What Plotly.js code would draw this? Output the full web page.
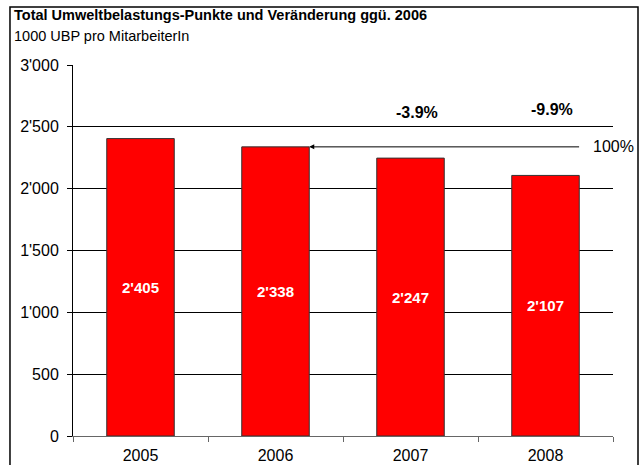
<!DOCTYPE html>
<html><head><meta charset="utf-8">
<script src="https://cdn.plot.ly/plotly-3.0.1.min.js"></script>
<style>html,body{margin:0;padding:0;background:#fff}#chart{width:640px;height:465px}</style>
</head><body><div id="chart"></div>
<script>
var years = ['2005', '2006', '2007', '2008'];
var ubp = [2405, 2338, 2247, 2107];
var baseYear = '2006';
var titleText = 'Total Umweltbelastungs-Punkte und Veränderung ggü. 2006';
var subtitleText = '1000 UBP pro MitarbeiterIn';
var changeLabelY = [null, null, 2612, 2644];

var baseIdx = years.indexOf(baseYear);
var baseVal = ubp[baseIdx];
var font = 'Liberation Sans, Arial, sans-serif';

var annotations = [
  {text: '<b>' + titleText + '</b>', xref: 'paper', yref: 'paper', x: -0.113, y: 1.136,
   xanchor: 'left', yanchor: 'middle', showarrow: false, font: {family: font, size: 14.5, color: '#000'}},
  {text: subtitleText, xref: 'paper', yref: 'paper', x: -0.113, y: 1.077,
   xanchor: 'left', yanchor: 'middle', showarrow: false, font: {family: font, size: 14.5, color: '#000'}},
  {x: baseIdx + 0.25, y: baseVal, xref: 'x', yref: 'y', ax: 3.26, ay: baseVal, axref: 'x', ayref: 'y',
   showarrow: true, arrowhead: 2, arrowsize: 1, arrowwidth: 1, arrowcolor: '#000', text: ''},
  {x: 3.335, y: baseVal, xref: 'x', yref: 'y', text: '100%', showarrow: false, xanchor: 'left', yanchor: 'middle',
   font: {family: font, size: 16, color: '#000'}}
];
for (var i = 0; i < years.length; i++) {
  if (changeLabelY[i] == null) continue;
  var pct = (ubp[i] / baseVal - 1) * 100;
  annotations.push({x: i + 0.05, y: changeLabelY[i], xref: 'x', yref: 'y', showarrow: false,
    text: '<b>' + pct.toFixed(1) + '%</b>', font: {family: font, size: 16, color: '#000'}});
}

var trace = {
  type: 'bar', x: years, y: ubp, width: 0.5,
  marker: {color: '#ff0000', line: {color: '#333333', width: 1}},
  texttemplate: '<b>%{y:,}</b>', textposition: 'inside', insidetextanchor: 'middle',
  textfont: {family: font, size: 15, color: '#ffffff'}, hoverinfo: 'none', cliponaxis: false
};

var layout = {
  width: 640, height: 465,
  margin: {l: 73, r: 27, t: 65, b: 29},
  paper_bgcolor: '#fff', plot_bgcolor: '#fff',
  separators: ".'",
  showlegend: false,
  font: {family: font, size: 16, color: '#000'},
  xaxis: {type: 'category', range: [-0.5, years.length - 0.5], autorange: false, automargin: false,
    showline: true, linecolor: '#666', linewidth: 1, ticks: 'outside', tickson: 'boundaries',
    ticklen: 5, tickcolor: '#666', showgrid: false, ticklabelstandoff: 5,
    tickfont: {family: font, size: 16, color: '#000'}, fixedrange: true},
  yaxis: {range: [0, 3000], autorange: false, dtick: 500, tickformat: ',d', automargin: false, showline: true, linecolor: '#000', linewidth: 1,
    ticks: 'outside', ticklen: 5, tickcolor: '#000', showgrid: true, gridcolor: '#000', gridwidth: 1, ticklabelstandoff: 5,
    zeroline: false, tickfont: {family: font, size: 16, color: '#000'}, fixedrange: true},
  annotations: annotations,
  shapes: [
    {type: 'rect', xref: 'paper', yref: 'paper', x0: -0.1167, x1: 1.0463, y0: -0.1, y1: 1.1563,
     line: {color: '#000', width: 1.5}, fillcolor: 'rgba(0,0,0,0)', layer: 'above'}
  ]
};

Plotly.newPlot('chart', [trace], layout, {displayModeBar: false, staticPlot: true});
</script></body></html>
